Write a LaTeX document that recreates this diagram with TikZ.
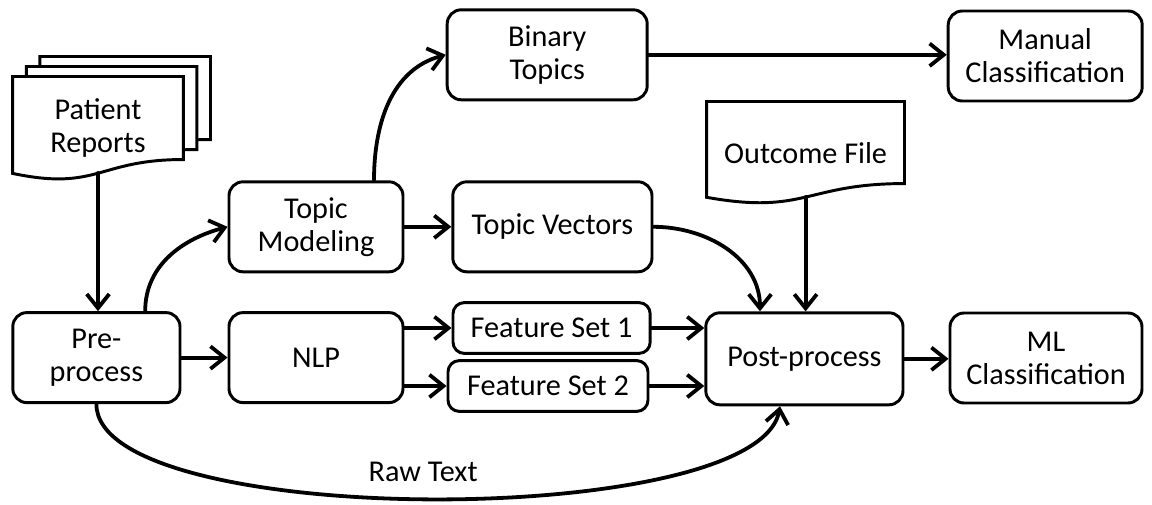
\documentclass[tikz,border=0pt]{standalone}
\usepackage{fontspec}
\setmainfont{Carlito}
\usepackage{tikz}
\usetikzlibrary{arrows.meta, calc, backgrounds}

% document outline (flat top, wavy bottom) around node #1, shifted by #2
\newcommand{\docshape}[2]{%
  \draw[docline] ($(#1.north west)+(#2)$) -- ($(#1.north east)+(#2)$)
    -- ($(#1.north east)!0.80!(#1.south east)+(#2)$)
    .. controls ($(#1.north)!0.80!(#1.south)+(#2)$) and ($(#1.north)!1.107!(#1.south)+(#2)$)
    .. ($(#1.north west)!0.934!(#1.south west)+(#2)$) -- cycle;}

\begin{document}
\begin{tikzpicture}[
  x=1cm, y=1cm,
  font=\fontsize{21.5}{23.5}\selectfont,
  >={Straight Barb[length=10pt,width=16pt]},
  line cap=round, line join=round,
  box/.style={draw, line width=2.1pt, rounded corners=10pt, align=center,
    inner sep=2pt, minimum height=2.25cm},
  fset/.style={box, rounded corners=8pt, minimum height=1.27cm},
  doc/.style={align=center, inner sep=0pt},
  docline/.style={draw, fill=white, line width=2.1pt},
  flow/.style={->, line width=2.7pt},
]
\useasboundingbox (0,0) rectangle (28.8,12.6);

% inputs
\node[doc, minimum width=4.25cm, minimum height=2.58cm] (reports) at (2.45,9.39) {Patient\\Reports};
\node[doc, minimum width=4.93cm, minimum height=2.55cm] (outcome) at (20.14,8.78) {Outcome File};
\begin{pgfonlayer}{background}
  \docshape{reports}{0.68,0.50}
  \docshape{reports}{0.34,0.25}
  \docshape{reports}{0,0}
  \docshape{outcome}{0,0}
\end{pgfonlayer}
\coordinate (repbot) at ($(reports.north)!0.93!(reports.south)$);
\coordinate (outbot) at ($(outcome.north)!0.93!(outcome.south)$);

% processing boxes
\node[box, minimum width=4.18cm] (pre) at (2.41,3.66) {Pre-\\process};
\node[box, minimum width=4.35cm] (nlp) at (7.90,3.66) {NLP};
\node[box, minimum width=4.35cm] (tm) at (7.90,6.93) {Topic\\Modeling};
\node[box, minimum width=4.98cm] (tv) at (13.81,6.93) {Topic Vectors};
\node[box, minimum width=5.00cm] (bin) at (13.68,11.23) {Binary\\Topics};
\node[box, minimum width=4.85cm] (man) at (26.13,11.20) {Manual\\Classification};
\node[fset, minimum width=4.93cm] (fs1) at (13.79,4.40) {Feature Set 1};
\node[fset, minimum width=5.00cm] (fs2) at (13.70,2.95) {Feature Set 2};
\node[box, minimum width=4.93cm, minimum height=2.3cm] (post) at (20.11,3.63) {Post-process};
\node[box, minimum width=4.80cm] (ml) at (26.15,3.65) {ML\\Classification};
\node (raw) at (10.58,0.80) {Raw Text};

% topic branch
\draw[flow] (repbot) -- (repbot |- pre.north);
\draw[flow] ($(pre.north)+(1.22,0)$) to[out=90,in=195] (tm.west);
\draw[flow] ($(tm.north)+(1.45,0)$) to[out=90,in=195] (bin.west);
\draw[flow] (tm) -- (tv);
\draw[flow] (bin.east) -- (bin.east -| man.west);
\draw[flow] (tv.east) to[out=0,in=90] ($(post.north)+(-1.11,0)$);
\draw[flow] (outbot) -- (outbot |- post.north);

% nlp branch
\draw[flow] (pre) -- (nlp);
\draw[flow] (nlp.east |- fs1.west) -- (fs1.west);
\draw[flow] (nlp.east |- fs2.west) -- (fs2.west);
\draw[flow] (fs1.east) -- (fs1.east -| post.west);
\draw[flow] (fs2.east) -- (fs2.east -| post.west);
\draw[flow] (post.east) -- (post.east -| ml.west);

% raw text
\draw[flow] (pre.south) to[out=-90,in=-100,looseness=0.47] ($(post.south)+(-0.61,0)$);
\end{tikzpicture}
\end{document}
